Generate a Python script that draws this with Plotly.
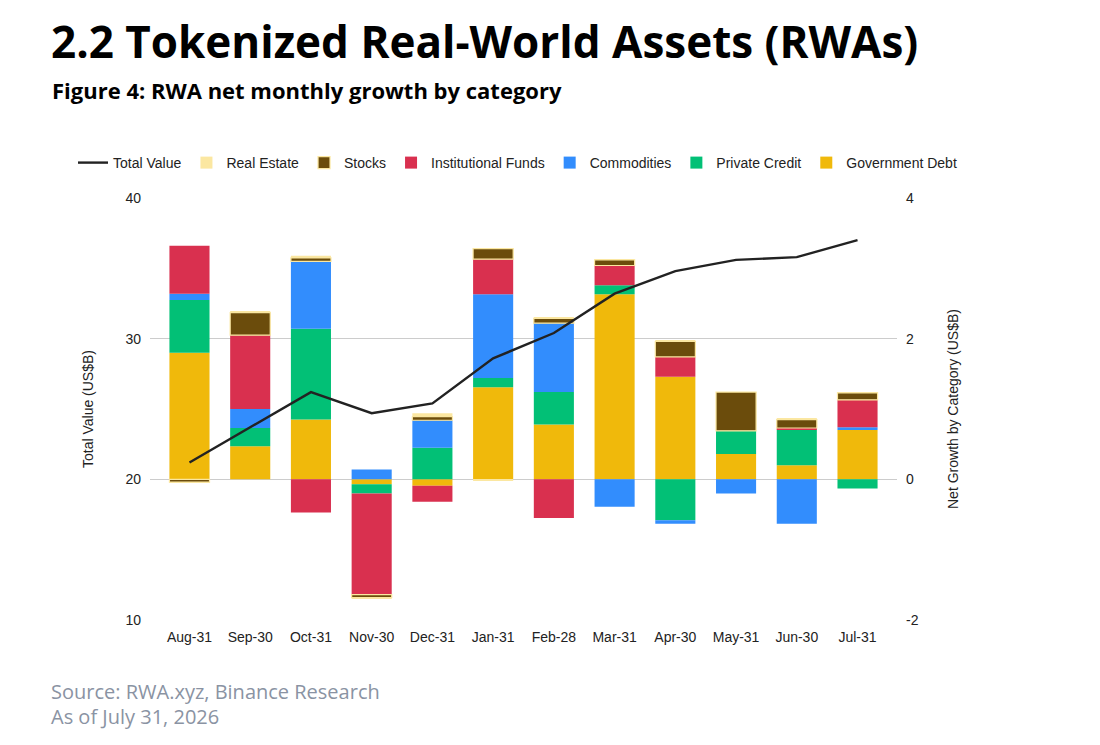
import plotly.graph_objects as go

months = ["Aug-31", "Sep-30", "Oct-31", "Nov-30", "Dec-31", "Jan-31",
          "Feb-28", "Mar-31", "Apr-30", "May-31", "Jun-30", "Jul-31"]

total_value = [21.2, 23.7, 26.2, 24.7, 25.4, 28.6, 30.4, 33.2, 34.8, 35.6, 35.8, 37.0]

government_debt = [1.80, 0.47, 0.85, -0.07, -0.09, 1.31, 0.78, 2.63, 1.46, 0.36, 0.20, 0.70]
private_credit = [0.75, 0.26, 1.29, -0.13, 0.45, 0.13, 0.46, 0.13, -0.58, 0.33, 0.51, -0.13]
commodities = [0.09, 0.27, 0.96, 0.14, 0.39, 1.19, 0.98, -0.39, -0.05, -0.20, -0.63, 0.04]
institutional_funds = [0.68, 1.05, -0.47, -1.44, -0.23, 0.50, -0.55, 0.28, 0.28, 0.00, 0.02, 0.39]
stocks = [-0.04, 0.32, 0.05, -0.04, 0.05, 0.15, 0.07, 0.08, 0.22, 0.55, 0.12, 0.10]
real_estate = [-0.01, 0.01, 0.03, -0.01, 0.05, -0.02, 0.01, 0.01, 0.01, 0.00, 0.01, 0.01]

growth_ticks = [-2, 0, 2, 4]
growth_tick_labels = ["-2", "0", "2", "4"]
value_ticks = [10, 20, 30, 40]
value_tick_labels = ["10", "20", "30", "40"]

series = [
    ("Government Debt", government_debt, "#F0B90B", 7),
    ("Private Credit", private_credit, "#02C076", 6),
    ("Commodities", commodities, "#328DFD", 5),
    ("Institutional Funds", institutional_funds, "#D9304F", 4),
    ("Stocks", stocks, "#6B4C0C", 3),
    ("Real Estate", real_estate, "#FBE7A1", 2),
]

FW, FH = 1084, 729
PL, PR, PT, PB = 142, 889, 190, 612
PW, PH = PR - PL, PB - PT

def px_x(x):
    return (x - PL) / PW

def px_y(y):
    return (PB - y) / PH

fig = go.Figure()
for name, vals, color, rank in series:
    line = dict(width=0)
    if name == "Stocks":
        line = dict(width=1.2, color="#FBE7A1")
    fig.add_trace(go.Bar(
        x=months, y=vals, name=name, marker=dict(color=color, line=line),
        width=0.66, yaxis="y", legendrank=rank,
    ))

fig.add_trace(go.Scatter(
    x=months, y=total_value, name="Total Value", mode="lines",
    line=dict(color="#222222", width=2.4), yaxis="y2", legendrank=1,
))

SANS = "Liberation Sans, Arial, sans-serif"
axis_font = dict(family=SANS, size=14, color="#222222")

fig.update_layout(
    width=FW, height=FH,
    margin=dict(l=PL, r=FW - PR, t=PT, b=FH - PB, autoexpand=False),
    paper_bgcolor="white", plot_bgcolor="white",
    barmode="relative",
    font=axis_font,
    showlegend=True,
    legend=dict(orientation="h", x=px_x(954), xanchor="right", y=px_y(155), yanchor="middle",
                font=dict(family=SANS, size=14, color="#222222"),
                itemwidth=30, tracegroupgap=0),
    xaxis=dict(range=[-0.65, 11.65], showgrid=False, showline=False, ticks="",
               tickfont=axis_font, ticklabelstandoff=7),
    yaxis=dict(side="right", range=[-2, 4], tickvals=growth_ticks, ticktext=growth_tick_labels,
               showgrid=True, gridcolor="#CCCCCC",
               gridwidth=1, zeroline=False, showline=False, ticks="",
               tickfont=axis_font, ticklabelstandoff=8,
               title=dict(text="Net Growth by Category (US$B)", standoff=30,
                          font=dict(family=SANS, size=14, color="#222222"))),
    yaxis2=dict(overlaying="y", side="left", range=[10, 40], tickvals=value_ticks,
                ticktext=value_tick_labels, showgrid=False,
                zeroline=False, showline=False, ticks="",
                tickfont=axis_font, ticklabelstandoff=8,
                title=dict(text="Total Value (US$B)", standoff=28,
                           font=dict(family=SANS, size=14, color="#222222"))),
)

TF = "Open Sans, sans-serif"
fig.add_annotation(text="<b>2.2 Tokenized Real-World Assets (RWAs)</b>", xref="paper", yref="paper",
                   x=px_x(41), y=px_y(1), xanchor="left", yanchor="top",
                   showarrow=False, font=dict(family=TF, size=44, color="#000000"))
fig.add_annotation(text="<b>Figure 4: RWA net monthly growth by category</b>", xref="paper", yref="paper",
                   x=px_x(42), y=px_y(82), xanchor="left", yanchor="middle",
                   showarrow=False, font=dict(family=TF, size=22, color="#000000"))
fig.add_annotation(text="Source: RWA.xyz, Binance Research", xref="paper", yref="paper",
                   x=px_x(41), y=px_y(683), xanchor="left", yanchor="middle",
                   showarrow=False, font=dict(family=TF, size=20, color="#8A93A3"))
fig.add_annotation(text="As of July 31, 2026", xref="paper", yref="paper",
                   x=px_x(41), y=px_y(708), xanchor="left", yanchor="middle",
                   showarrow=False, font=dict(family=TF, size=20, color="#8A93A3"))

fig.write_html("out.html")
